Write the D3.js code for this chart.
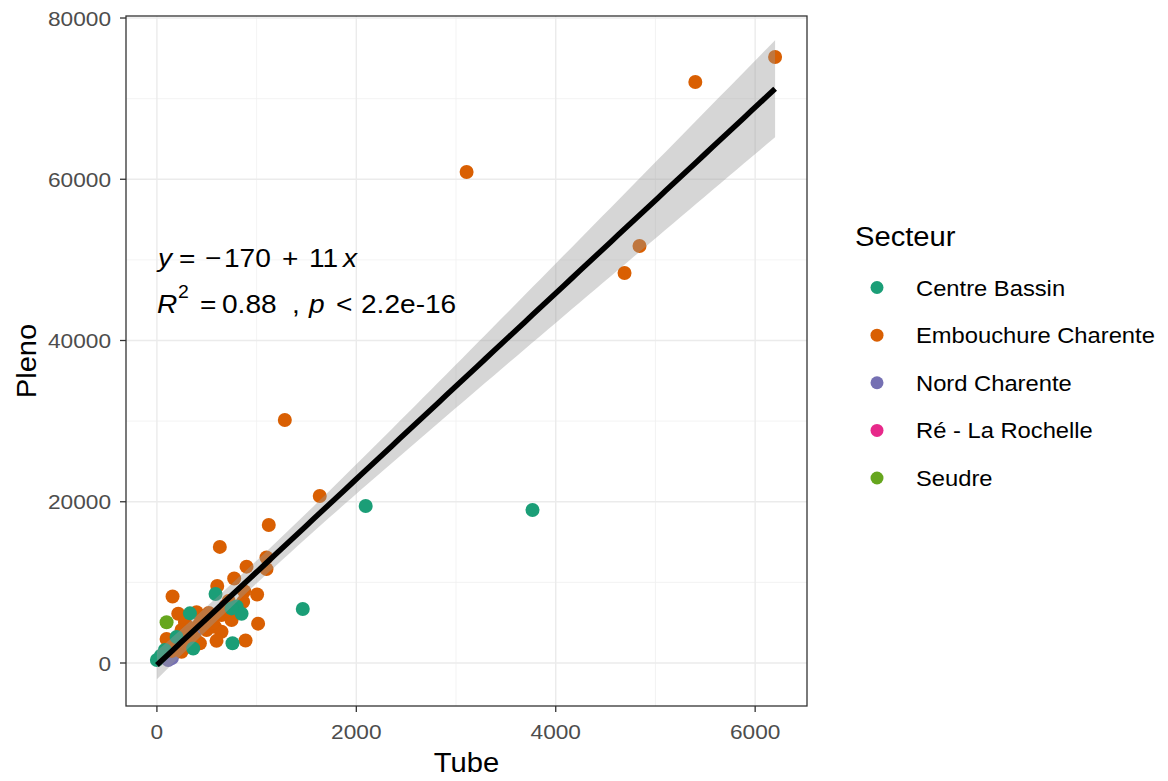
<!DOCTYPE html>
<html><head><meta charset="utf-8">
<script src="https://cdn.jsdelivr.net/npm/d3@7"></script>
<style>body{margin:0;background:#fff}</style>
</head><body><svg id="chart" width="1168" height="781"></svg>
<script>
// ---------- data ----------
const secteurs = ["Centre Bassin", "Embouchure Charente", "Nord Charente", "Ré - La Rochelle", "Seudre"];
const secteurColors = ["#1B9E77", "#D95F02", "#7570B3", "#E7298A", "#66A61E"];
const xTicks = [0, 2000, 4000, 6000];
const xMinor = [1000, 3000, 5000];
const yTicks = [0, 20000, 40000, 60000, 80000];
const yMinor = [10000, 30000, 50000, 70000];

const reTube  = [60];
const rePleno = [700];
const nordTube  = [113, 150, 250, 380, 446];
const nordPleno = [380, 600, 2400, 3900, 4920];
const embTube  = [6200, 5400, 3106, 4840, 4690, 1283, 1633, 1122, 631, 1099, 899, 1099, 775, 605, 875, 157, 1005, 865, 720, 214, 398, 464, 648, 749, 1015, 281, 581, 247, 347, 498, 648, 598, 889, 97, 381, 247, 180, 281, 431, 150, 520, 560, 700, 330, 430, 690];
const embPleno = [75160, 72060, 60900, 51720, 48370, 30140, 20710, 17120, 14400, 13080, 11950, 11650, 10480, 9550, 8900, 8250, 8500, 7600, 7700, 6100, 6300, 5740, 5950, 5330, 4880, 5100, 4500, 4090, 4300, 4090, 3880, 2750, 2800, 2980, 3060, 1400, 2230, 2440, 2440, 1500, 6200, 5000, 6500, 3700, 4900, 7100];
const centreTube  = [2094, 3767, 1463, 588, 799, 849, 331, 749, 758, 364, 197, 80, 0, 40];
const centrePleno = [19470, 18980, 6700, 8560, 7000, 6100, 6160, 6770, 2450, 1800, 3230, 1610, 370, 900];
const seudreTube  = [97];
const seudrePleno = [5050];

const groups = [
  {s: 3, x: reTube, y: rePleno},
  {s: 2, x: nordTube, y: nordPleno},
  {s: 1, x: embTube, y: embPleno},
  {s: 0, x: centreTube, y: centrePleno},
  {s: 4, x: seudreTube, y: seudrePleno}
];
const points = [];
groups.forEach(g => g.x.forEach((v, i) => points.push({x: v, y: g.y[i], s: g.s})));

// ---------- layout ----------
const svg = d3.select("#chart");
const SX = 1.08;
const FONT = "'Liberation Sans', Arial, sans-serif";
const P = {l: 126, r: 807, t: 16, b: 706};
const x = d3.scaleLinear().domain([-310, 6520]).range([P.l, P.r]);
const y = d3.scaleLinear().domain([-5333, 80250]).range([P.b, P.t]);

function txt(parent, tx, ty, s, o = {}) {
  const t = parent.append("text")
    .attr("transform", `translate(${tx},${ty})${o.rot ? ` rotate(${o.rot})` : ""} scale(${SX},1)`)
    .attr("font-family", FONT)
    .attr("font-size", o.size || 21)
    .attr("fill", o.fill || "#000")
    .attr("text-anchor", o.anchor || "start")
    .text(s);
  if (o.italic) t.attr("font-style", "italic");
  return t;
}

// panel background & grid
svg.append("rect").attr("x", P.l).attr("y", P.t).attr("width", P.r - P.l).attr("height", P.b - P.t).attr("fill", "#fff");
const grid = svg.append("g");
xMinor.forEach(v => grid.append("line").attr("x1", x(v)).attr("x2", x(v)).attr("y1", P.t).attr("y2", P.b).attr("stroke", "#F0F0F0").attr("stroke-width", 0.8));
yMinor.forEach(v => grid.append("line").attr("y1", y(v)).attr("y2", y(v)).attr("x1", P.l).attr("x2", P.r).attr("stroke", "#F0F0F0").attr("stroke-width", 0.8));
xTicks.forEach(v => grid.append("line").attr("x1", x(v)).attr("x2", x(v)).attr("y1", P.t).attr("y2", P.b).attr("stroke", "#EBEBEB").attr("stroke-width", 1.4));
yTicks.forEach(v => grid.append("line").attr("y1", y(v)).attr("y2", y(v)).attr("x1", P.l).attr("x2", P.r).attr("stroke", "#EBEBEB").attr("stroke-width", 1.4));

// points
svg.append("g").selectAll("circle").data(points).join("circle")
  .attr("cx", d => x(d.x)).attr("cy", d => y(d.y)).attr("r", 7)
  .attr("fill", d => secteurColors[d.s]);

// linear regression from the data
const n = points.length;
const xbar = d3.mean(points, d => d.x), ybar = d3.mean(points, d => d.y);
const Sxx = d3.sum(points, d => (d.x - xbar) ** 2);
const Sxy = d3.sum(points, d => (d.x - xbar) * (d.y - ybar));
const slope = Sxy / Sxx, intercept = ybar - slope * xbar;
const sse = d3.sum(points, d => (d.y - intercept - slope * d.x) ** 2);
const sRes = Math.sqrt(sse / (n - 2));
const tCrit = 1.995;
const xmin = d3.min(points, d => d.x), xmax = d3.max(points, d => d.x);
const fit = d3.range(80).map(i => {
  const xv = xmin + (xmax - xmin) * i / 79;
  const yv = intercept + slope * xv;
  const se = sRes * Math.sqrt(1 / n + (xv - xbar) ** 2 / Sxx);
  return {x: xv, y: yv, lo: yv - tCrit * se, hi: yv + tCrit * se};
});
svg.append("path").datum(fit)
  .attr("d", d3.area().x(d => x(d.x)).y0(d => y(d.lo)).y1(d => y(d.hi)))
  .attr("fill", "#999999").attr("fill-opacity", 0.4);
svg.append("path").datum(fit)
  .attr("d", d3.line().x(d => x(d.x)).y(d => y(d.y)))
  .attr("fill", "none").attr("stroke", "#000").attr("stroke-width", 5.5);

// panel border
svg.append("rect").attr("x", P.l).attr("y", P.t).attr("width", P.r - P.l).attr("height", P.b - P.t)
  .attr("fill", "none").attr("stroke", "#333333").attr("stroke-width", 1.3);

// axes
const ax = svg.append("g");
xTicks.forEach(v => {
  ax.append("line").attr("x1", x(v)).attr("x2", x(v)).attr("y1", P.b).attr("y2", P.b + 6).attr("stroke", "#333").attr("stroke-width", 1.3);
  txt(ax, x(v), 739, d3.format("d")(v), {size: 21, fill: "#4D4D4D", anchor: "middle"});
});
yTicks.forEach(v => {
  ax.append("line").attr("x1", P.l - 6).attr("x2", P.l).attr("y1", y(v)).attr("y2", y(v)).attr("stroke", "#333").attr("stroke-width", 1.3);
  txt(ax, 111, y(v) + 7.5, d3.format("d")(v), {size: 21, fill: "#4D4D4D", anchor: "end"});
});
txt(svg, (P.l + P.r) / 2, 772, "Tube", {size: 27, anchor: "middle"});
txt(svg, 36, (P.t + P.b) / 2, "Pleno", {size: 27, anchor: "middle", rot: -90});

// regression annotation
const ann = svg.append("g");
const A = 26;
txt(ann, 158, 267, "y", {size: A, italic: true});
txt(ann, 179, 267, "=", {size: A});
txt(ann, 205, 267, "\u2212", {size: A});
txt(ann, 224, 267, "170", {size: A});
txt(ann, 282, 267, "+", {size: A});
txt(ann, 309, 267, "11", {size: A});
txt(ann, 343, 267, "x", {size: A, italic: true});
txt(ann, 157, 313, "R", {size: A, italic: true});
txt(ann, 178, 298, "2", {size: 18});
txt(ann, 200, 313, "=", {size: A});
txt(ann, 222, 313, "0.88", {size: A});
txt(ann, 292, 313, ",", {size: A});
txt(ann, 309, 313, "p", {size: A, italic: true});
txt(ann, 336, 313, "<", {size: A});
txt(ann, 361, 313, "2.2e-16", {size: A});

// legend
const lg = svg.append("g");
txt(lg, 855, 246, "Secteur", {size: 27});
const legY = d3.scalePoint().domain(secteurs).range([287.5, 478]);
secteurs.forEach((s, i) => {
  lg.append("circle").attr("cx", 877).attr("cy", legY(s)).attr("r", 6.5).attr("fill", secteurColors[i]);
  txt(lg, 916, legY(s) + 8, s, {size: 22});
});
</script></body></html>
